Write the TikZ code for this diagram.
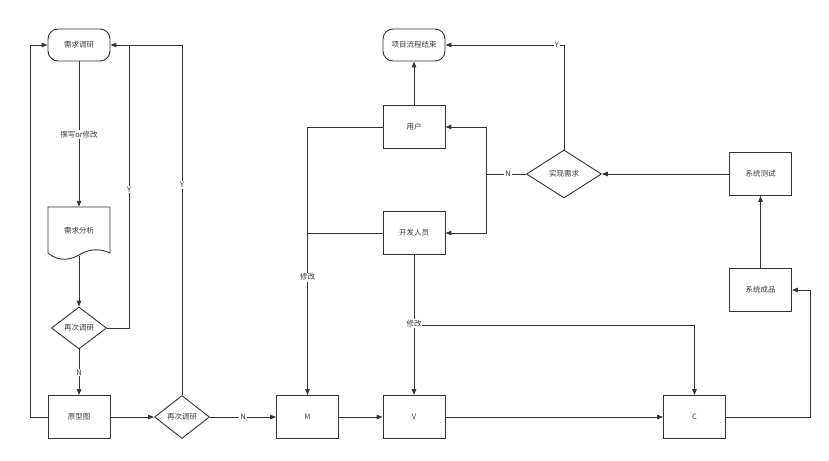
\documentclass[tikz,border=0pt]{standalone}
\usepackage{fontspec}
\setmainfont{Noto Sans CJK SC}
\usetikzlibrary{arrows.meta,shapes.geometric}
\definecolor{ln}{HTML}{333333}
\definecolor{tx}{HTML}{3A3A3A}
\begin{document}
\begin{tikzpicture}[x=1pt,y=-1pt,
  every node/.style={font=\fontsize{7.5}{9}\selectfont, text=tx},
  box/.style={draw=ln, line width=0.9pt, minimum width=62pt, minimum height=43pt, inner sep=0pt},
  term/.style={draw=ln, line width=0.9pt, rounded corners=10pt, minimum width=62pt, minimum height=32pt, inner sep=0pt},
  dec/.style={draw=ln, line width=0.9pt, diamond, inner sep=0pt},
  lbl/.style={fill=white, inner sep=1pt},
  arr/.style={draw=ln, line width=0.9pt, -{Triangle[length=6pt,width=4.5pt]}},
  ln/.style={draw=ln, line width=0.9pt}]
\useasboundingbox (0,0) rectangle (829,460);
% left column
\node[term] (req) at (79,45) {需求调研};
\node[minimum width=62pt, minimum height=48pt, inner sep=0pt] (doc) at (79,231) {需求分析};
\draw[ln] (48,207) -- (110,207) -- (110,253)
  .. controls (100,248) and (88,249) .. (79,255)
  .. controls (72,259) and (60,263) .. (48,253) -- cycle;
\coordinate (docb) at (79,256);
\node[dec, minimum width=55pt, minimum height=42pt] (dia1) at (79,328) {再次调研};
\node[box] (proto) at (79,417) {原型图};
\node[dec, minimum width=55pt, minimum height=43pt] (dia2) at (182,417) {再次调研};
% middle
\node[box] (M) at (307.5,417) {M};
\node[box] (V) at (414,417) {V};
\node[box] (C) at (694.5,417) {C};
\node[term] (end) at (414,45) {项目流程结束};
\node[box] (user) at (414,127) {用户};
\node[box] (dev) at (414,233) {开发人员};
\node[dec, minimum width=75pt, minimum height=48pt] (real) at (564,174) {实现需求};
\node[box] (test) at (760.5,174) {系统测试};
\node[box] (prod) at (760.5,290) {系统成品};
% connectors left
\draw[arr] (req) -- node[lbl, pos=0.505]{撰写or修改} (doc.north);
\draw[arr] (docb) -- (dia1.north);
\draw[arr] (dia1) -- node[lbl]{N} (proto);
\draw[arr] (dia1.east) -- (129,328) -- node[lbl, pos=0.49]{Y} (129,45) -- (req.east);
\draw[arr] (proto.west) -- (30,417) -- (30,45) -- (req.west);
\draw[ln] (dia2.north) -- node[lbl, pos=0.6]{Y} (182,45) -- (129,45);
\draw[arr] (proto) -- (dia2);
\draw[arr] (dia2) -- node[lbl]{N} (M);
% middle connectors
\draw[arr] (M) -- (V);
\draw[arr] (V) -- (C);
\draw[arr] (C.east) -- (810,417) -- (810,290) -- (prod.east);
\draw[arr] (prod) -- (test);
\draw[arr] (test) -- (real);
\draw[arr] (real.north) |- node[lbl, pos=0.53]{Y} (end.east);
\coordinate (nsplit) at (486,174);
\draw[ln] (real.west) -- node[lbl, pos=0.45]{N} (nsplit);
\draw[arr] (nsplit) |- (user.east);
\draw[arr] (nsplit) |- (dev.east);
\draw[arr] (user) -- (end);
\coordinate (mleft) at (307.5,127);
\draw[arr] (user.west) -- (mleft) -- node[lbl, pos=0.56]{修改} (M.north);
\draw[ln] (dev.west) -- (307.5,233);
\coordinate (vsplit) at (414,325);
\draw[arr] (dev) -- node[lbl, pos=0.49]{修改} (V);
\draw[arr] (vsplit) ++(8,0) -| (C.north);
\end{tikzpicture}
\end{document}
